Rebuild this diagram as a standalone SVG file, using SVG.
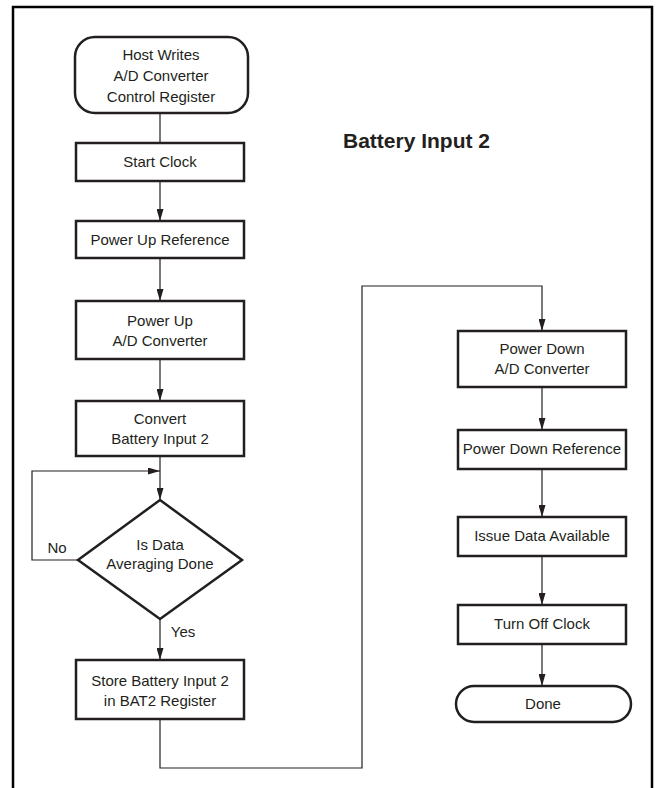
<svg xmlns="http://www.w3.org/2000/svg" width="658" height="788" viewBox="0 0 658 788">
<defs>
<marker id="arr" markerWidth="12" markerHeight="7" refX="12" refY="3.5" orient="auto" markerUnits="userSpaceOnUse">
<path d="M0,0 L12,3.5 L0,7 Z" fill="#231f20"/>
</marker>
<style>
.box{fill:#fff;stroke:#231f20;stroke-width:2.5}
.ln{fill:none;stroke:#231f20;stroke-width:1.2}
.t{font-family:"Liberation Sans",Arial,sans-serif;font-size:15px;fill:#231f20;text-anchor:middle}
.title{font-family:"Liberation Sans",Arial,sans-serif;font-size:21px;font-weight:bold;fill:#231f20}
</style>
</defs>
<rect width="658" height="788" fill="#fff"/>
<path d="M13,788 V7 H652 V788" fill="none" stroke="#000" stroke-width="2.5"/>
<text class="title" x="343" y="148">Battery Input 2</text>
<g id="connectors">
<line class="ln" x1="160" y1="113" x2="160" y2="143"/>
<line class="ln" x1="160" y1="181" x2="160" y2="221" marker-end="url(#arr)"/>
<line class="ln" x1="160" y1="258" x2="160" y2="301" marker-end="url(#arr)"/>
<line class="ln" x1="160" y1="359" x2="160" y2="401" marker-end="url(#arr)"/>
<line class="ln" x1="160" y1="456" x2="160" y2="500" marker-end="url(#arr)"/>
<path class="ln" d="M78,560 H32 V471 H160" marker-end="url(#arr)"/>
<line class="ln" x1="160" y1="619" x2="160" y2="660" marker-end="url(#arr)"/>
<path class="ln" d="M160,719 V768 H362 V286 H542 V331" marker-end="url(#arr)"/>
<line class="ln" x1="542" y1="387" x2="542" y2="430" marker-end="url(#arr)"/>
<line class="ln" x1="542" y1="469" x2="542" y2="517" marker-end="url(#arr)"/>
<line class="ln" x1="542" y1="556" x2="542" y2="605" marker-end="url(#arr)"/>
<line class="ln" x1="542" y1="644" x2="542" y2="686" marker-end="url(#arr)"/>
<text class="t" x="57" y="553">No</text>
<text class="t" x="183" y="637">Yes</text>
</g>
<g id="host">
<rect class="box" x="75" y="37" width="173" height="76" rx="20" ry="20"/>
<text class="t" x="161" y="60">Host Writes</text>
<text class="t" x="161" y="81">A/D Converter</text>
<text class="t" x="161" y="102">Control Register</text>
</g>
<g id="start-clock">
<rect class="box" x="76" y="143" width="168" height="38"/>
<text class="t" x="160" y="167">Start Clock</text>
</g>
<g id="pu-ref">
<rect class="box" x="76" y="221" width="168" height="37"/>
<text class="t" x="160" y="245">Power Up Reference</text>
</g>
<g id="pu-ad">
<rect class="box" x="76" y="301" width="168" height="58"/>
<text class="t" x="160" y="326">Power Up</text>
<text class="t" x="160" y="346">A/D Converter</text>
</g>
<g id="convert">
<rect class="box" x="76" y="401" width="168" height="55"/>
<text class="t" x="160" y="424">Convert</text>
<text class="t" x="160" y="444">Battery Input 2</text>
</g>
<g id="decision">
<polygon class="box" points="160,500 242,560 160,619 78,560"/>
<text class="t" x="160" y="550">Is Data</text>
<text class="t" x="160" y="569">Averaging Done</text>
</g>
<g id="store">
<rect class="box" x="76" y="660" width="168" height="59"/>
<text class="t" x="160" y="686">Store Battery Input 2</text>
<text class="t" x="160" y="706">in BAT2 Register</text>
</g>
<g id="pd-ad">
<rect class="box" x="458" y="331" width="168" height="56"/>
<text class="t" x="542" y="354">Power Down</text>
<text class="t" x="542" y="374">A/D Converter</text>
</g>
<g id="pd-ref">
<rect class="box" x="458" y="430" width="168" height="39"/>
<text class="t" x="542" y="454">Power Down Reference</text>
</g>
<g id="issue">
<rect class="box" x="458" y="517" width="168" height="39"/>
<text class="t" x="542" y="541">Issue Data Available</text>
</g>
<g id="turn-off">
<rect class="box" x="458" y="605" width="168" height="39"/>
<text class="t" x="542" y="629">Turn Off Clock</text>
</g>
<g id="done">
<rect class="box" x="456" y="686" width="175" height="36" rx="18" ry="18"/>
<text class="t" x="543" y="709">Done</text>
</g>
</svg>
